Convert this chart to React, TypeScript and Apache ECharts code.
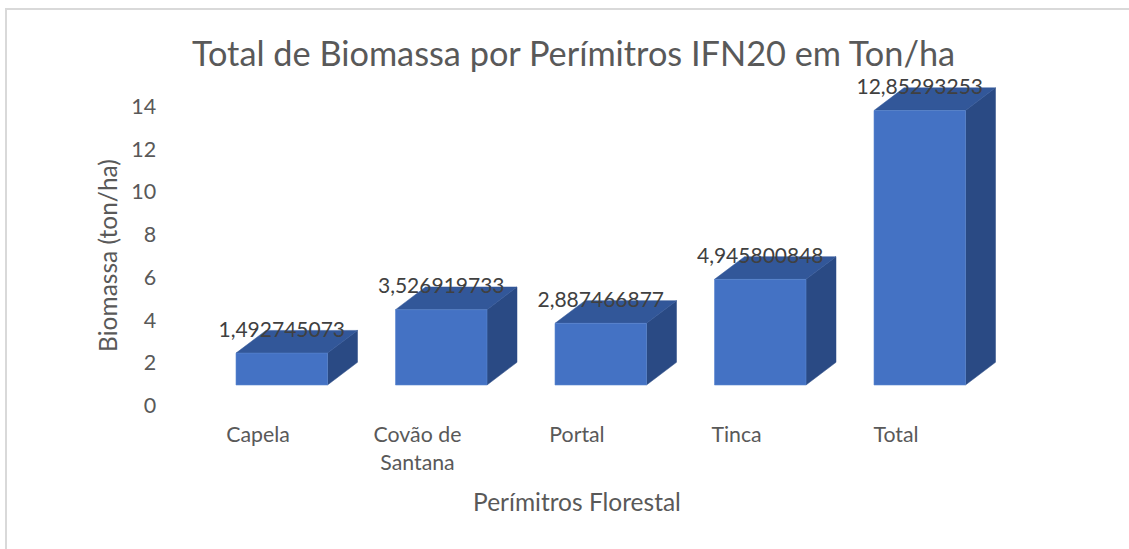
import React, { useEffect, useRef } from "react";
import * as echarts from "echarts";

const categories = ["Capela", "Covão de\nSantana", "Portal", "Tinca", "Total"];
const biomassValues = [1.492745073, 3.526919733, 2.887466877, 4.945800848, 12.85293253];
const yTicks = { min: 0, max: 14, interval: 2 };
const chartTitle = "Total de Biomassa por Perímitros IFN20 em Ton/ha";
const yAxisTitle = "Biomassa (ton/ha)";
const xAxisTitle = "Perímitros Florestal";

const FONT = "Lato";
const FRONT = "#4472C4";
const TOP = "#325799";
const SIDE = "#2A4A84";
const EDGE = "#5A86D0";

export default function App() {
  const ref = useRef<HTMLDivElement>(null);

  useEffect(() => {
    if (!ref.current) return;
    const chart = echarts.init(ref.current, null, { renderer: "svg" });

    const renderItem = (params: any, api: any) => {
      const idx = api.value(0);
      const val = api.value(1);
      const p0 = api.coord([idx, 0]);
      const p1 = api.coord([idx, val]);
      const lift = 20;
      const dx = 30;
      const dy = -22.7;
      const xl = p0[0] - 22;
      const xr = p0[0] + 69.5;
      const yb = p0[1] - lift;
      const yt = p1[1] - lift;
      const label = String(biomassValues[params.dataIndex]).replace(".", ",");
      return {
        type: "group",
        children: [
          {
            type: "polygon",
            shape: { points: [[xr, yb], [xr + dx, yb + dy], [xr + dx, yt + dy], [xr, yt]] },
            style: { fill: SIDE, stroke: SIDE, lineWidth: 0.5 },
          },
          {
            type: "polygon",
            shape: { points: [[xl, yt], [xr, yt], [xr + dx, yt + dy], [xl + dx, yt + dy]] },
            style: { fill: TOP, stroke: TOP, lineWidth: 0.5 },
          },
          {
            type: "rect",
            shape: { x: xl, y: yt, width: xr - xl, height: yb - yt },
            style: { fill: FRONT, stroke: EDGE, lineWidth: 0.6 },
          },
          {
            type: "text",
            x: (xl + xr) / 2,
            y: yt + dy - 2,
            style: {
              text: label,
              fill: "#404040",
              fontSize: 21,
              fontFamily: FONT,
              align: "center",
              verticalAlign: "middle",
            },
          },
        ],
      };
    };

    chart.setOption({
      animation: false,
      backgroundColor: "#ffffff",
      grid: { left: 178.25, right: 153.25, top: 106, bottom: 144 },
      xAxis: {
        type: "category",
        data: categories,
        axisLine: { show: false },
        axisTick: { show: false },
        axisLabel: {
          margin: 15,
          interval: 0,
          fontFamily: FONT,
          fontSize: 21.3,
          lineHeight: 28,
          color: "#595959",
        },
        name: xAxisTitle,
        nameLocation: "middle",
        nameGap: 84,
        nameTextStyle: { fontFamily: FONT, fontSize: 24.5, color: "#595959" },
      },
      yAxis: {
        type: "value",
        min: yTicks.min,
        max: yTicks.max,
        interval: yTicks.interval,
        axisLine: { show: false },
        axisTick: { show: false },
        splitLine: { show: false },
        axisLabel: { margin: 22, fontFamily: FONT, fontSize: 21.5, color: "#595959" },
        name: yAxisTitle,
        nameLocation: "middle",
        nameGap: 56,
        nameTextStyle: { fontFamily: FONT, fontSize: 24.5, color: "#595959" },
      },
      graphic: [
        {
          type: "rect",
          shape: { x: 6, y: 9, width: 1140, height: 560 },
          style: { fill: "none", stroke: "#D9D9D9", lineWidth: 2 },
          silent: true,
        },
        {
          type: "text",
          x: 573.5,
          y: 52,
          style: {
            text: chartTitle,
            fill: "#595959",
            fontFamily: FONT,
            fontSize: 34.3,
            align: "center",
            verticalAlign: "middle",
          },
          silent: true,
        },
      ],
      series: [
        {
          type: "custom",
          renderItem,
          data: biomassValues.map((v, i) => [i, v]),
          encode: { x: 0, y: 1 },
        },
      ],
    });

    return () => chart.dispose();
  }, []);

  return (
    <div
      ref={ref}
      style={{ position: "fixed", left: 0, top: 0, width: 1129, height: 549 }}
    />
  );
}
